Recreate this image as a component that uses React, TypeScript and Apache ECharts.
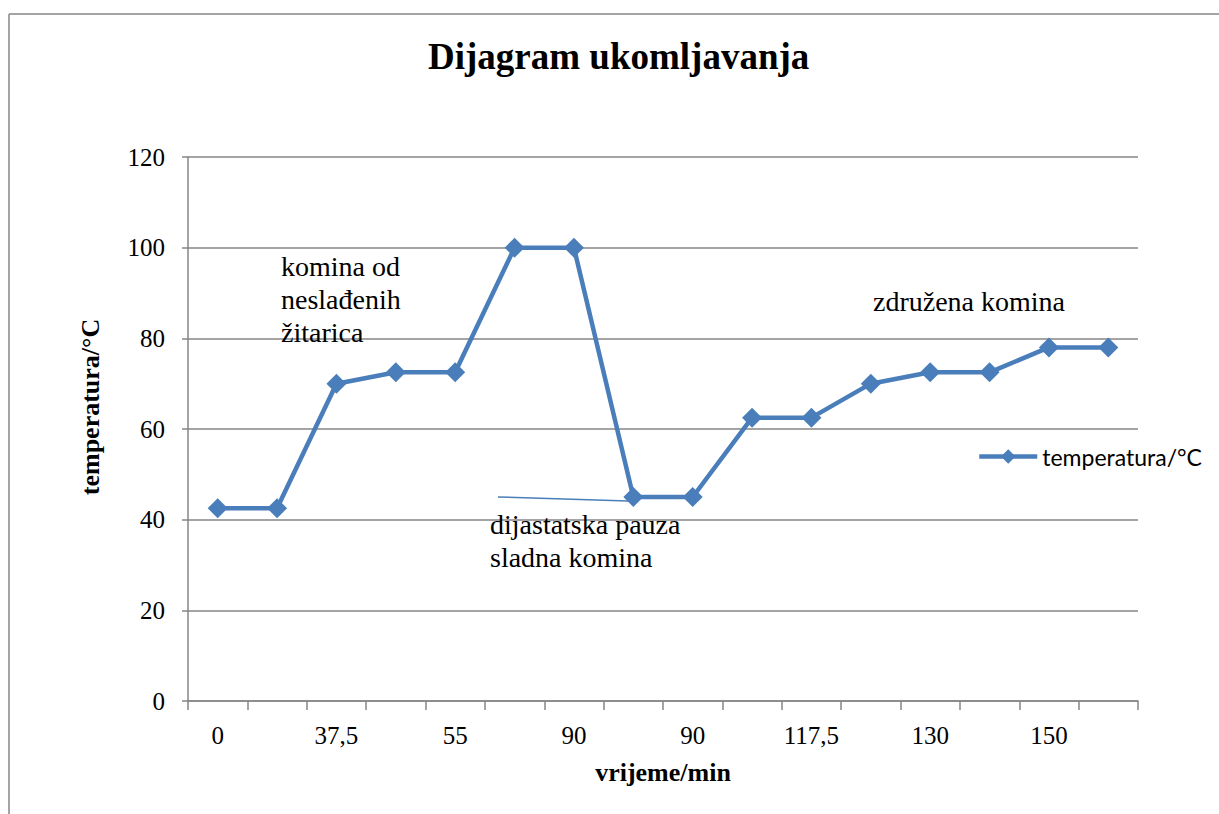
import React, { useEffect, useRef } from "react";
import * as echarts from "echarts";

const categories = ["0", "20", "37,5", "45", "55", "75", "90", "90", "90", "105", "117,5", "125", "130", "140", "150", "160"];
const temperatures = [42.5, 42.5, 70, 72.5, 72.5, 100, 100, 45, 45, 62.5, 62.5, 70, 72.5, 72.5, 78, 78];
const seriesName = "temperatura/°C";
const titleText = "Dijagram ukomljavanja";
const yAxisName = "temperatura/°C";
const xAxisName = "vrijeme/min";
const annotationLeft = "komina od\nneslađenih\nžitarica";
const annotationRight = "združena komina";
const annotationMiddle = "dijastatska pauza\nsladna komina";

const serif = "Liberation Serif";
const annStyle = { fontFamily: serif, fontSize: 28, lineHeight: 33, fontWeight: "normal", color: "#000" };

export default function App() {
  const ref = useRef<HTMLDivElement>(null);
  useEffect(() => {
    document.body.style.margin = "0";
    const chart = echarts.init(ref.current!, undefined, { renderer: "svg" });
    chart.setOption({
      animation: false,
      backgroundColor: "#ffffff",
      title: [
        {
          text: titleText,
          left: 423,
          top: 33,
          textStyle: { fontFamily: serif, fontSize: 37, fontWeight: "bold", color: "#000" },
        },
        { text: annotationLeft, left: 281, top: 250, padding: 0, textStyle: annStyle },
        { text: annotationRight, left: 873, top: 285, padding: 0, textStyle: annStyle },
        { text: annotationMiddle, left: 490, top: 508, padding: 0, textStyle: annStyle },
      ],
      legend: {
        data: [seriesName],
        left: 972,
        top: 440,
        itemWidth: 58,
        itemHeight: 18,
        itemGap: 4,
        lineStyle: { width: 4.5 },
        textStyle: { fontFamily: "Lato", fontSize: 23, color: "#000" },
      },
      grid: { left: 188, top: 157, width: 950, height: 544, containLabel: false },
      xAxis: {
        type: "category",
        data: categories,
        boundaryGap: true,
        name: xAxisName,
        nameLocation: "middle",
        nameGap: 58,
        nameTextStyle: { fontFamily: serif, fontSize: 26, fontWeight: "bold", color: "#000" },
        axisLine: { lineStyle: { color: "#868686", width: 1.5 } },
        axisTick: { show: true, length: 9, interval: 0, lineStyle: { color: "#868686", width: 1.5 } },
        axisLabel: { interval: 1, margin: 22, fontFamily: serif, fontSize: 25, color: "#000" },
      },
      yAxis: {
        type: "value",
        min: 0,
        max: 120,
        interval: 20,
        name: yAxisName,
        nameLocation: "middle",
        nameGap: 85,
        nameRotate: 90,
        nameTextStyle: {
          fontFamily: serif, fontSize: 26, fontWeight: "bold", color: "#000",
          padding: [0, 0, 0, 44],
        },
        axisLine: { show: true, lineStyle: { color: "#868686", width: 1.5 } },
        axisTick: { show: true, length: 6, lineStyle: { color: "#868686", width: 1.5 } },
        axisLabel: { margin: 23, fontFamily: serif, fontSize: 25, color: "#000" },
        splitLine: { lineStyle: { color: "#868686", width: 1.5 } },
      },
      series: [
        {
          name: seriesName,
          type: "line",
          data: temperatures,
          symbol: "diamond",
          symbolSize: 20,
          lineStyle: { color: "#4a7ebb", width: 4.5 },
          itemStyle: { color: "#4a7ebb" },
        },
      ],
      graphic: [
        { type: "line", shape: { x1: 9, y1: 14, x2: 1219, y2: 14 }, style: { stroke: "#868686", lineWidth: 1.5 } },
        { type: "line", shape: { x1: 9, y1: 14, x2: 9, y2: 814 }, style: { stroke: "#868686", lineWidth: 1.5 } },
        { type: "line", shape: { x1: 498, y1: 497, x2: 628, y2: 501 }, style: { stroke: "#4a7ebb", lineWidth: 1.5 } },
      ],
    });
    return () => chart.dispose();
  }, []);
  return <div ref={ref} style={{ width: 1219, height: 814 }} />;
}
